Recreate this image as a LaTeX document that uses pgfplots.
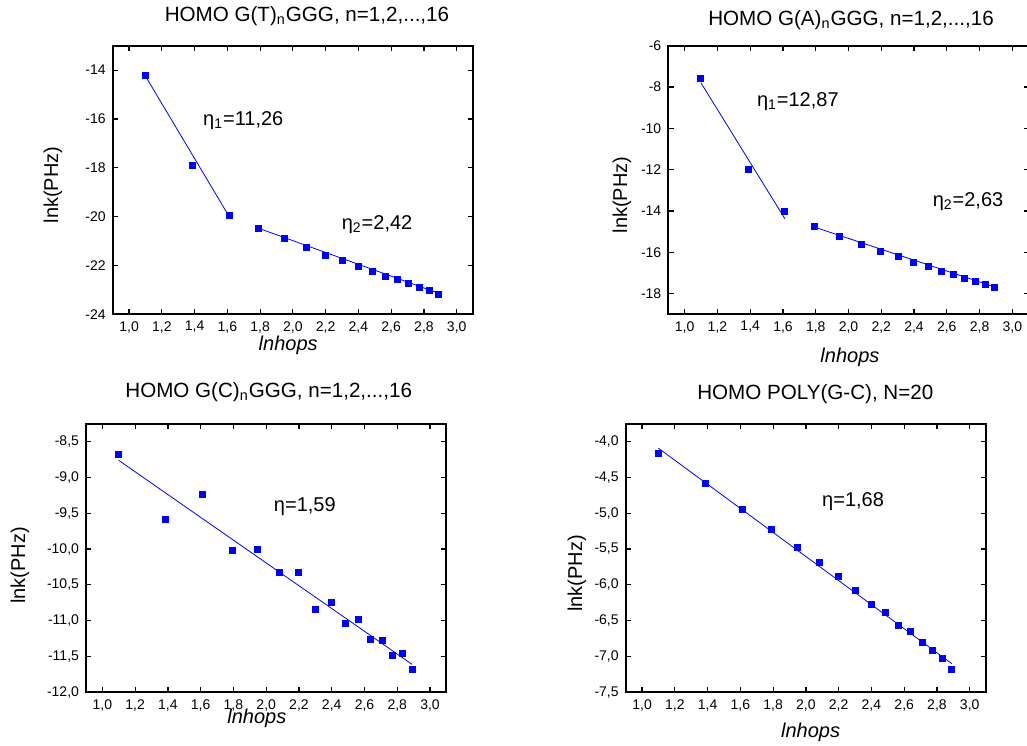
\documentclass[border=0pt]{standalone}
\usepackage{fontspec}
\setmainfont{Liberation Sans}
\usepackage{pgfplots}
\pgfplotsset{compat=1.18}

\tikzset{ann/.style={font=\fontsize{10}{12}\selectfont, anchor=base west, inner sep=0pt}}
\pgfplotsset{
  every axis title/.style={font=\fontsize{10.3}{12}\selectfont, anchor=center, at={(0.5,1.1)}},
  panel/.style={
    scale only axis, width=180.2pt, height=134.3pt,
    xmin=0.9, xmax=3.1,
    xtick={1.0,1.2,1.4,1.6,1.8,2.0,2.2,2.4,2.6,2.8,3.0},
    tick align=inside,
    axis line style={line width=0.9pt},
    tick style={line width=0.6pt, black},
    major tick length=2.6pt,
    minor tick num=0,
    /pgf/number format/assume math mode=true,
    tick label style={font=\fontsize{7}{8}\selectfont},
    xticklabel style={/pgf/number format/.cd, fixed, fixed zerofill, precision=1, use comma},
    label style={font=\fontsize{10}{12}\selectfont},
    xlabel={\itshape lnhops},
    ylabel={lnk(PHz)},
    clip=false,
  },
  pts/.style={only marks, mark=square*, mark size=1.5pt, color=blue, mark options={fill=blue, draw=blue}},
  fit/.style={blue, line width=0.4pt, no markers},
}

\begin{document}
\begin{tikzpicture}

% Panel 1: HOMO G(T)nGGG
\begin{axis}[panel, at={(56.35pt,215.35pt)}, anchor=south west,
  ymin=-24, ymax=-13, ytick={-24,-22,-20,-18,-16,-14},
  title={HOMO G(T)\textsubscript{n}GGG, n=1,2,...,16},
  title style={at={(axis description cs:0.539,1.11)}},
  xlabel style={at={(axis description cs:0.487,-0.114)}, anchor=center},
  ylabel style={at={(axis description cs:-0.166,0.481)}, anchor=center},
]
\addplot[fit] coordinates {(1.0986,-14.23) (1.6094,-19.98)};
\addplot[fit] coordinates {(1.7918,-20.48) (2.8904,-23.14)};
\addplot[pts] coordinates {
(1.0986,-14.23) (1.3863,-17.90) (1.6094,-19.96) (1.7918,-20.48)
(1.9459,-20.91) (2.0794,-21.26) (2.1972,-21.57) (2.3026,-21.81)
(2.3979,-22.04) (2.4849,-22.25) (2.5649,-22.43) (2.6391,-22.59)
(2.7081,-22.74) (2.7726,-22.89) (2.8332,-23.03) (2.8904,-23.18)};
\node[ann] at (axis cs:1.45,-16.26) {η\textsubscript{1}=11,26};
\node[ann] at (axis cs:2.296,-20.54) {η\textsubscript{2}=2,42};
\end{axis}

% Panel 2: HOMO G(A)nGGG
\begin{axis}[panel, at={(334.15pt,215.35pt)}, anchor=south west,
  ymin=-19, ymax=-6, ytick={-18,-16,-14,-12,-10,-8,-6},
  title={HOMO G(A)\textsubscript{n}GGG, n=1,2,...,16},
  title style={at={(axis description cs:0.507,1.096)}},
  xlabel style={at={(axis description cs:0.504,-0.159)}, anchor=center},
  ylabel style={at={(axis description cs:-0.1285,0.444)}, anchor=center},
]
\addplot[fit] coordinates {(1.0986,-7.79) (1.612,-14.38)};
\addplot[fit] coordinates {(1.7918,-14.78) (2.8904,-17.67)};
\addplot[pts] coordinates {
(1.0986,-7.56) (1.3863,-12.00) (1.6094,-14.04) (1.7918,-14.75)
(1.9459,-15.23) (2.0794,-15.63) (2.1972,-15.97) (2.3026,-16.20)
(2.3979,-16.49) (2.4849,-16.70) (2.5649,-16.91) (2.6391,-17.08)
(2.7081,-17.24) (2.7726,-17.40) (2.8332,-17.55) (2.8904,-17.68)};
\node[ann] at (axis cs:1.439,-8.92) {η\textsubscript{1}=12,87};
\node[ann] at (axis cs:2.512,-13.79) {η\textsubscript{2}=2,63};
\end{axis}

% Panel 3: HOMO G(C)nGGG
\begin{axis}[panel, at={(43pt,26.35pt)}, anchor=south west,
  ymin=-12, ymax=-8.25, ytick={-12,-11.5,-11,-10.5,-10,-9.5,-9,-8.5},
  yticklabel style={/pgf/number format/.cd, fixed, fixed zerofill, precision=1, use comma},
  title={HOMO G(C)\textsubscript{n}GGG, n=1,2,...,16},
  title style={at={(axis description cs:0.507,1.116)}},
  xlabel style={at={(axis description cs:0.474,-0.0955)}, anchor=center},
  ylabel style={at={(axis description cs:-0.183,0.473)}, anchor=center},
]
\addplot[fit] coordinates {(1.0986,-8.76) (2.8904,-11.61)};
\addplot[pts] coordinates {
(1.0986,-8.68) (1.3863,-9.58) (1.6094,-9.24) (1.7918,-10.02)
(1.9459,-10.00) (2.0794,-10.33) (2.1972,-10.33) (2.3026,-10.84)
(2.3979,-10.75) (2.4849,-11.04) (2.5649,-10.98) (2.6391,-11.26)
(2.7081,-11.27) (2.7726,-11.49) (2.8332,-11.45) (2.8904,-11.68)};
\node[ann] at (axis cs:2.045,-9.47) {η=1,59};
\end{axis}

% Panel 4: HOMO POLY(G-C)
\begin{axis}[panel, at={(312.85pt,26.35pt)}, anchor=south west,
  ymin=-7.5, ymax=-3.75, ytick={-7.5,-7,-6.5,-6,-5.5,-5,-4.5,-4},
  yticklabel style={/pgf/number format/.cd, fixed, fixed zerofill, precision=1, use comma},
  title={HOMO POLY(G-C), N=20},
  title style={at={(axis description cs:0.526,1.109)}},
  xlabel style={at={(axis description cs:0.513,-0.148)}, anchor=center},
  ylabel style={at={(axis description cs:-0.135,0.443)}, anchor=center},
]
\addplot[fit] coordinates {(1.0986,-4.09) (2.8904,-7.10)};
\addplot[pts] coordinates {
(1.0986,-4.17) (1.3863,-4.59) (1.6094,-4.94) (1.7918,-5.23)
(1.9459,-5.47) (2.0794,-5.69) (2.1972,-5.88) (2.3026,-6.08)
(2.3979,-6.27) (2.4849,-6.38) (2.5649,-6.57) (2.6391,-6.65)
(2.7081,-6.81) (2.7726,-6.91) (2.8332,-7.02) (2.8904,-7.18)};
\node[ann] at (axis cs:2.097,-4.90) {η=1,68};
\end{axis}

\pgfresetboundingbox
\useasboundingbox (0,0) rectangle (513.5pt,372.5pt);
\end{tikzpicture}
\end{document}
